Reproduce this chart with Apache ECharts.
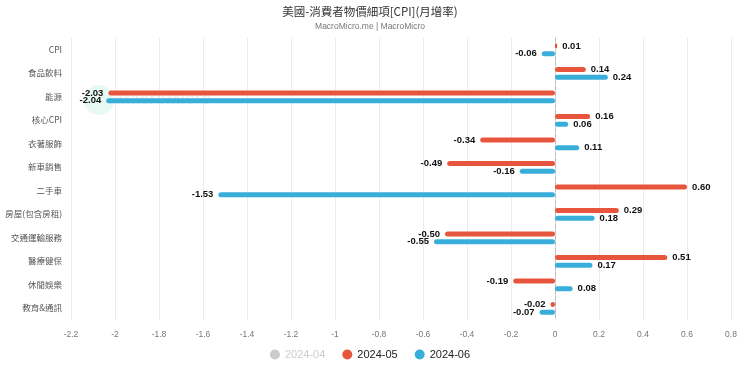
<!DOCTYPE html>
<html><head><meta charset="utf-8">
<script src="https://cdn.jsdelivr.net/npm/echarts@6/dist/echarts.min.js"></script>
<style>html,body{margin:0;padding:0;background:#fff}#c{width:740px;height:368px}</style>
</head><body><div id="c"></div>
<script>
const categories = ['CPI','食品飲料','能源','核心CPI','衣著服飾','新車銷售','二手車','房屋(包含房租)','交通運輸服務','醫療健保','休閒娛樂','教育&通訊'];
const seriesNames = ['2024-04','2024-05','2024-06'];
const apr2024 = [null,null,null,null,null,null,null,null,null,null,null,null];
const may2024 = [0.01,0.14,-2.03,0.16,-0.34,-0.49,0.60,0.29,-0.50,0.51,-0.19,-0.02];
const jun2024 = [-0.06,0.24,-2.04,0.06,0.11,-0.16,-1.53,0.18,-0.55,0.17,0.08,-0.07];
const xTicks = {min:-2.2, max:0.8, interval:0.2};

const font = '"Noto Sans CJK TC","Noto Sans",sans-serif';
const colors = ['#c8c8c8','#e8553d','#3aaedb'];
function mk(name, data, color){
  return {
    name, type:'bar', data: data.map(v => v===null?null:{value:v, label:{position: v<0?'left':'right'}}),
    barWidth:5, barGap:'55%',
    itemStyle:{color, borderRadius:3},
    label:{show:true, fontSize:9.5, fontWeight:'bold', color:'#111', fontFamily:'Liberation Sans, sans-serif', distance:5,
      formatter: p => p.value.toFixed(2)}
  };
}
const chart = echarts.init(document.getElementById('c'));
chart.setOption({
  animation:false,
  color: colors,
  title:{text:'美國-消費者物價細項[CPI](月增率)', subtext:'MacroMicro.me | MacroMicro', left:'center', top:1,
    itemGap:5,
    textStyle:{fontSize:11.5, fontWeight:'normal', color:'#333', fontFamily:font},
    subtextStyle:{fontSize:8.5, color:'#777', fontFamily:'Liberation Sans, sans-serif'}},
  legend:{bottom:3, left:'center', icon:'circle', itemWidth:10, itemHeight:10, itemGap:17,
    textStyle:{fontSize:11, color:'#222', fontFamily:'Liberation Sans, sans-serif'},
    inactiveColor:'#ccc',
    data: seriesNames,
    selected:{'2024-04':false,'2024-05':true,'2024-06':true}},
  grid:{left:71, right:9, top:38, bottom:48},
  xAxis:{type:'value', min:xTicks.min, max:xTicks.max, interval:xTicks.interval,
    axisLine:{show:false}, axisTick:{show:false},
    axisLabel:{fontSize:8.5, color:'#777', margin:10, fontFamily:'Liberation Sans, sans-serif',
      formatter: v => String(Math.round(v*10)/10)},
    splitLine:{lineStyle:{color:'#ececec'}}},
  yAxis:{type:'category', data:categories, inverse:true,
    axisLine:{show:true, onZero:true, lineStyle:{color:'#bbb', type:'dashed', width:1}},
    axisTick:{show:false},
    axisLabel:{fontSize:8.5, color:'#555', margin:9, fontFamily:font}},
  graphic:[
    {type:'circle', shape:{cx:99, cy:100, r:15}, style:{fill:'rgba(120,220,190,0.18)'}, z:-1},
    {type:'text', left:116, top:91, style:{text:'MacroMicro', font:'bold 17px Liberation Sans, sans-serif', fill:'rgba(200,200,200,0.25)'}, z:-1}
  ],
  series:[mk('2024-04',apr2024,colors[0]), mk('2024-05',may2024,colors[1]), mk('2024-06',jun2024,colors[2])]
});
</script></body></html>
